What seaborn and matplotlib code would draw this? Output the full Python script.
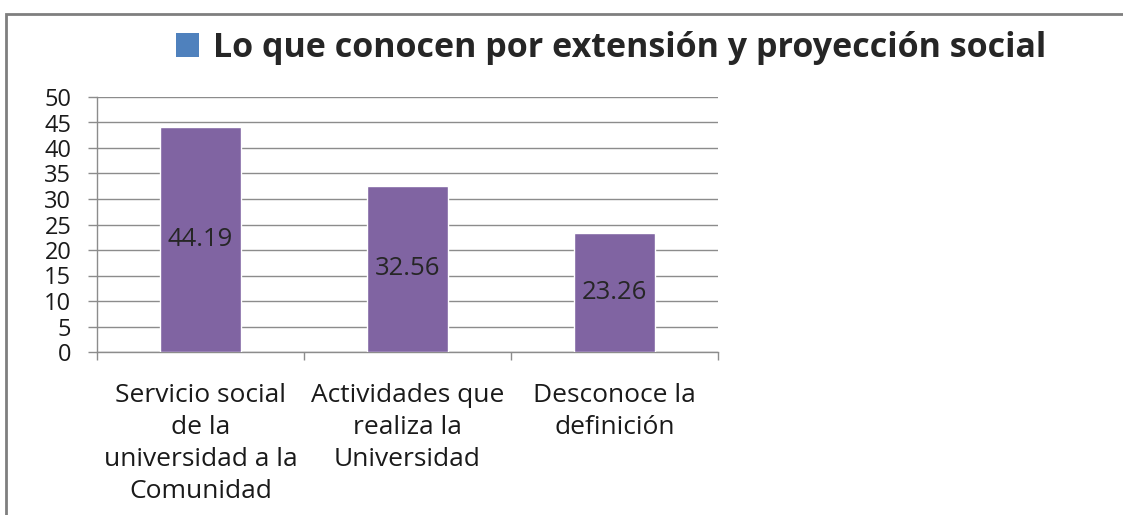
import matplotlib
matplotlib.use("Agg")
import matplotlib.pyplot as plt
from matplotlib.patches import Patch, Rectangle
import seaborn as sns
import pandas as pd

categorias = ["Servicio social\nde la\nuniversidad a la\nComunidad",
              "Actividades que\nrealiza la\nUniversidad",
              "Desconoce la\ndefinición"]
porcentajes = [44.19, 32.56, 23.26]
serie = "Lo que conocen por extensión y proyección social"
y_ticks = [0, 5, 10, 15, 20, 25, 30, 35, 40, 45, 50]

df = pd.DataFrame({"categoria": categorias, "valor": porcentajes})

sns.set_theme(style="white")
plt.rcParams["font.family"] = ["Open Sans", "DejaVu Sans"]

fig = plt.figure(figsize=(11.23, 5.15), dpi=100)
ax = fig.add_axes([97 / 1123, 1 - 352 / 515, (718 - 97) / 1123, (352 - 97) / 515])

sns.barplot(data=df, x="categoria", y="valor", color="#8064A2", width=0.39,
            saturation=1, ax=ax, zorder=3)

# etiquetas de datos en el centro de cada barra
for p, v in zip(ax.patches, porcentajes):
    ax.text(p.get_x() + p.get_width() / 2, v / 2, f"{v:.2f}",
            ha="center", va="center", fontsize=18.5, color="#262626", zorder=4)

ax.set_ylim(0, 50)
ax.set_xlim(-0.5, 2.5)
ax.set_yticks(y_ticks)
ax.yaxis.grid(True, color="#8c8c8c", linewidth=1)
ax.set_axisbelow(True)
ax.set_xlabel("")
ax.set_ylabel("")
for s in ["top", "right"]:
    ax.spines[s].set_visible(False)
for s in ["left", "bottom"]:
    ax.spines[s].set_color("#8c8c8c")
    ax.spines[s].set_linewidth(1)

ax.tick_params(axis="y", labelsize=17, length=6.5, color="#8c8c8c", width=1, pad=12,
               left=True, labelcolor="#1a1a1a")
ax.tick_params(axis="x", labelsize=19, length=0, pad=22, labelcolor="#1a1a1a")
ax.set_xticks([0, 1, 2])
ax.set_xticklabels(categorias, linespacing=1.37, va="top")
# marcas entre categorias
ax.set_xticks([-0.5, 0.5, 1.5, 2.5], minor=True)
ax.tick_params(axis="x", which="minor", length=6, color="#8c8c8c", width=1, bottom=True)

fig.legend(handles=[Patch(facecolor="#4F81BD", edgecolor="none")], labels=[serie],
           loc="center", bbox_to_anchor=(611 / 1123, 1 - 48 / 515), frameon=False,
           prop={"weight": "bold", "size": 24.5}, handlelength=0.7, handleheight=0.7,
           handletextpad=0.4)

fig.patches.append(Rectangle((6 / 1123, -0.1), 1.2, 1 - 14 / 515 + 0.1,
                             transform=fig.transFigure, fill=False,
                             edgecolor="#7f7f7f", linewidth=2))

fig.savefig("out.png", dpi=100)
